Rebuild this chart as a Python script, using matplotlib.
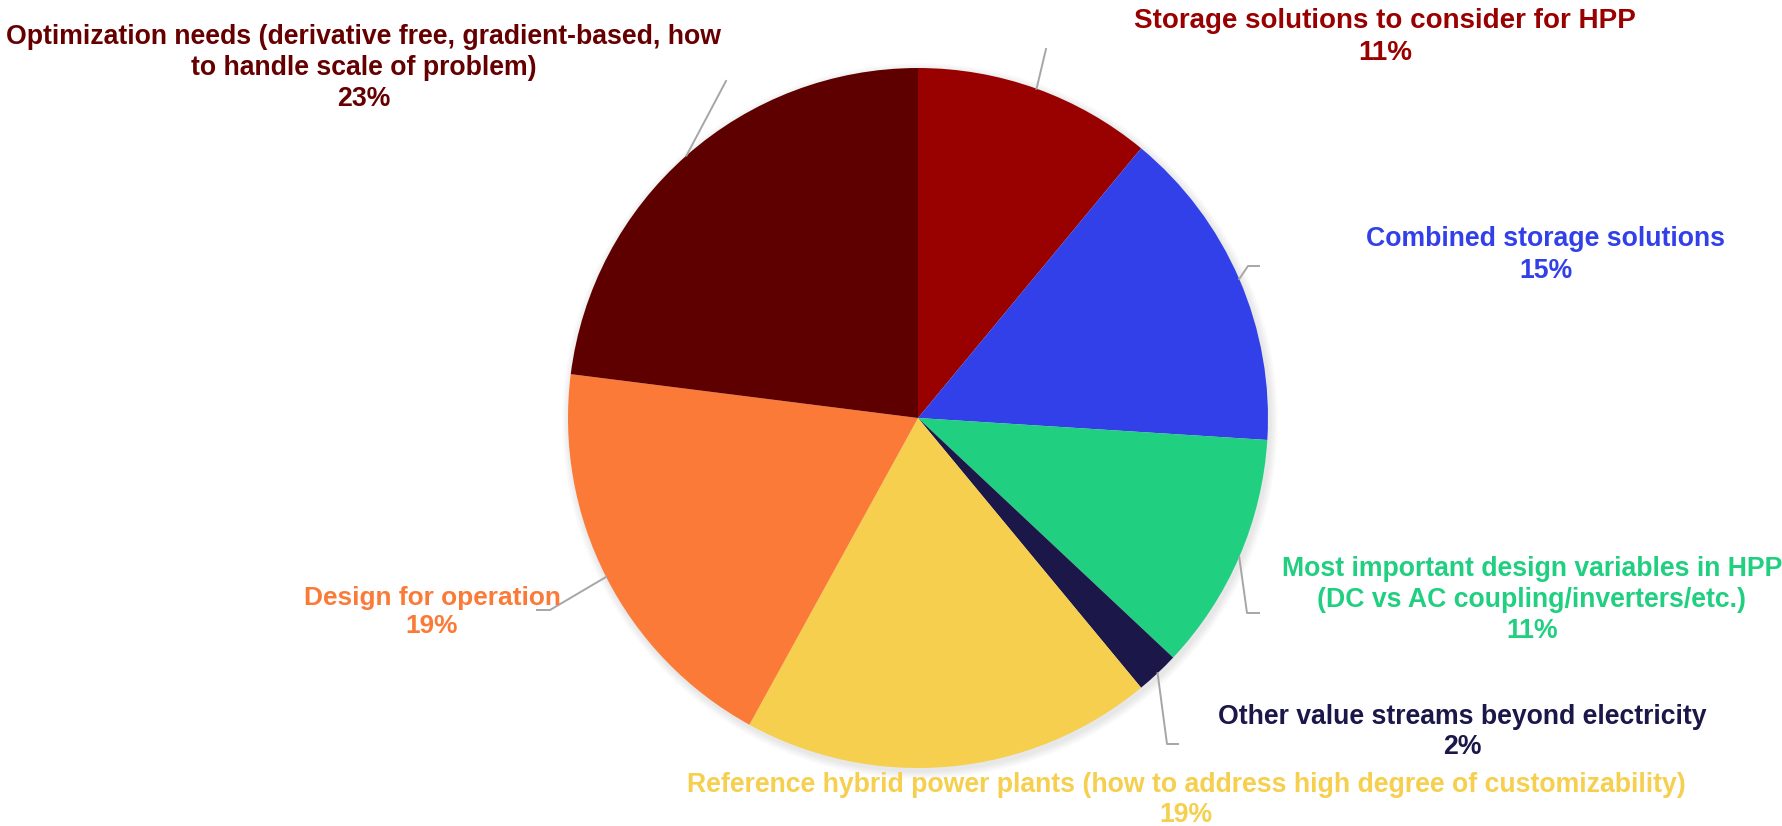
import numpy as np
import matplotlib
matplotlib.use('Agg')
import matplotlib.pyplot as plt
from matplotlib import font_manager

# topics raised, share of responses (%), clockwise from 12 o'clock
topics = [
    'Storage solutions to consider for HPP',
    'Combined storage solutions',
    'Most important design variables in HPP\n(DC vs AC coupling/inverters/etc.)',
    'Other value streams beyond electricity',
    'Reference hybrid power plants (how to address high degree of customizability)',
    'Design for operation',
    'Optimization needs (derivative free, gradient-based, how\nto handle scale of problem)',
]
shares = [11, 15, 11, 2, 19, 19, 23]
colors = ['#990000', '#3240E9', '#21CF81', '#1B1849', '#F5CF4D', '#FB7A37', '#5E0000']
text_colors = ['#990000', '#3240E9', '#21CF81', '#1B1849', '#F5CF4D', '#FB7A37', '#660000']

W, H = 1783, 826
cx, cy, R = 918, H - 418, 350

names = {f.name for f in font_manager.fontManager.ttflist}
narrow = 'Liberation Sans Narrow' if 'Liberation Sans Narrow' in names else 'Liberation Sans'

fig = plt.figure(figsize=(W / 100, H / 100), dpi=100)
ax = fig.add_axes([0, 0, 1, 1])

# soft shadow around the pie
for k in range(8):
    ax.add_patch(plt.Circle((cx + 2, cy - 3), R + 8 - k, color='black', alpha=0.012, lw=0, zorder=0))

wedges, _ = ax.pie(shares, colors=colors, startangle=90, counterclock=False,
                   center=(cx, cy), radius=R, wedgeprops=dict(linewidth=0), frame=True)

# label layout: text centre (pixels from top-left), leader path after the wedge edge point, font size
layout = [
    ((1385, 37), [(1046, 49)], 20),
    ((1546, 255), [(1248, 266), (1259, 266)], 19.2),
    ((1532, 600), [(1247, 613), (1259, 613)], 19.2),
    ((1462, 732), [(1167, 744), (1178, 744)], 19.2),
    ((1186, 800), [], 19.2),
    ((432, 612), [(550, 610), (537, 610)], 18.9),
    ((364, 68), [(726, 81)], 19.2),
]

for w, name, val, tc, (pos, path, fs) in zip(wedges, topics, shares, text_colors, layout):
    ax.text(pos[0], H - pos[1], f'{name}\n{val}%', color=tc, fontsize=fs, fontweight='bold',
            family=[narrow, 'DejaVu Sans'], ha='center', va='center', multialignment='center',
            linespacing=1.25, zorder=5)
    if path:
        mid = np.deg2rad((w.theta1 + w.theta2) / 2)
        pts = [(cx + R * np.cos(mid), cy + R * np.sin(mid))] + [(x, H - y) for x, y in path]
        xs, ys = zip(*pts)
        ax.plot(xs, ys, color='#A6A6A6', lw=1.4, zorder=4)

ax.set_xlim(0, W)
ax.set_ylim(0, H)
ax.set_aspect('auto')
ax.axis('off')

fig.savefig('out.png', dpi=100, facecolor='white')
